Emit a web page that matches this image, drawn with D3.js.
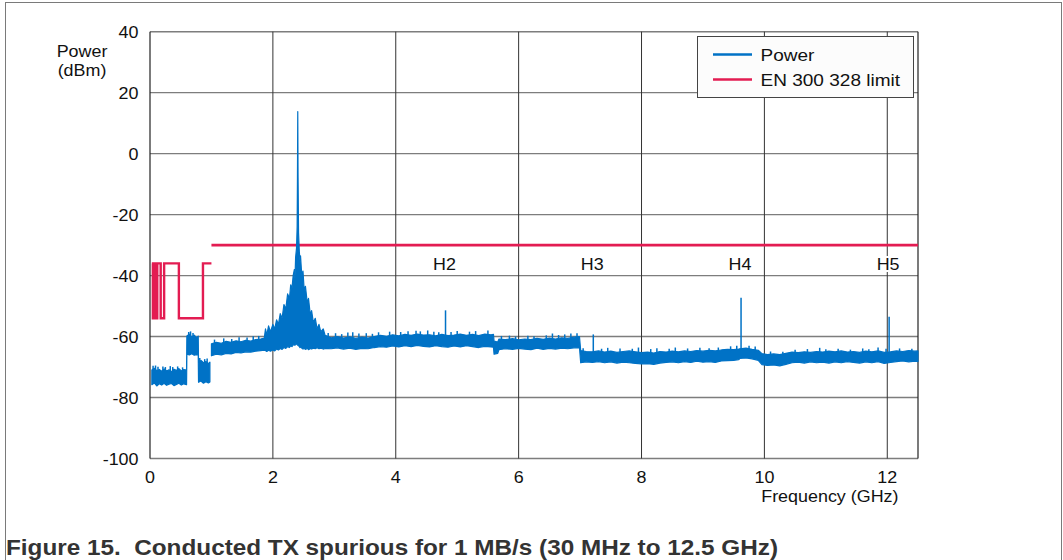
<!DOCTYPE html>
<html>
<head>
<meta charset="utf-8">
<script src="https://cdn.jsdelivr.net/npm/d3@7"></script>
<style>
    body { margin: 0; background: #fff; }
    svg text { font-family: "Liberation Sans", Arial, sans-serif; fill: #111; }
</style>
</head>
<body>
<div id="chart"></div>
<script>
// DATA AREA (frequencies in GHz, power in dBm)
const xTicks = [0, 2, 4, 6, 8, 10, 12];
const yTicks = [40, 20, 0, -20, -40, -60, -80, -100];

// noise band of the measured trace: frequency, upper edge, lower edge (null = gap)
const bandFreq = [
    0.03, 0.07, 0.11, 0.15, 0.19, 0.23, 0.27, 0.31, 0.35, 0.39, 0.43, 0.47, 0.51, 0.55, 0.595,
    0.60, 0.64, 0.68, 0.72, 0.76, 0.785,
    0.79, 0.83, 0.87, 0.91, 0.95, 0.975, 0.99,
    1.00, 1.08, 1.16, 1.24, 1.32, 1.40, 1.48, 1.56, 1.64, 1.72, 1.80, 1.86,
    1.88, 1.90, 1.93, 1.96, 2.00, 2.03, 2.06, 2.09, 2.12, 2.15, 2.18, 2.21, 2.24, 2.27, 2.29,
    2.31, 2.33, 2.35, 2.36, 2.37, 2.385, 2.395, 2.400, 2.405, 2.410, 2.418, 2.43, 2.44, 2.45,
    2.47, 2.49, 2.51, 2.53, 2.56, 2.58, 2.61, 2.63, 2.66, 2.69, 2.72, 2.75, 2.78, 2.82, 2.85,
    2.95, 3.05, 3.15, 3.25, 3.35, 3.45, 3.55, 3.65, 3.75, 3.85, 3.95, 4.05, 4.15, 4.25, 4.35,
    4.45, 4.55, 4.65, 4.75, 4.85, 4.95, 5.05, 5.15, 5.25, 5.35, 5.45, 5.55, 5.59,
    5.60, 5.66, 5.68, 5.78, 5.90, 6.00, 6.10, 6.20, 6.30, 6.40, 6.50, 6.60, 6.70, 6.80, 6.90, 6.99,
    7.01, 7.10, 7.20, 7.30, 7.40, 7.50, 7.60, 7.70, 7.80, 7.90, 8.00, 8.10, 8.20, 8.30, 8.40,
    8.50, 8.60, 8.70, 8.80, 8.90, 9.00, 9.10, 9.20, 9.30, 9.40, 9.50, 9.58,
    9.60, 9.70, 9.80, 9.90, 9.96, 10.05, 10.15, 10.25, 10.35, 10.45, 10.55, 10.65, 10.75, 10.85,
    10.95, 11.05, 11.15, 11.25, 11.35, 11.45, 11.55, 11.65, 11.75, 11.85, 11.95, 12.05, 12.15,
    12.25, 12.35, 12.45, 12.5
];
const bandHi = [
    -71.0, -70.4, -71.2, -70.8, -71.4, -70.6, -71.3, -70.9, -71.5, -70.7, -71.1, -70.5, -71.3, -70.8, -71.0,
    -59.8, -59.2, -60.2, -59.5, -60.4, -59.9,
    -68.5, -67.8, -68.6, -68.2, -68.9, -68.4, null,
    -62.4, -61.9, -62.2, -61.6, -61.9, -61.4, -61.7, -61.2, -61.5, -61.0, -60.8, -60.5,
    -57.5, -59.5, -56.5, -58.5, -56.0, -57.5, -54.5, -56.0, -52.5, -54.0, -49.5, -51.0, -46.0, -47.5, -43.0,
    -44.5, -40.0, -38.0, -41.0, -34.0, -31.0, -24.0, -8.0, 13.8, -8.0, -26.0, -32.0, -35.0, -33.5,
    -40.0, -38.5, -45.0, -43.5, -49.0, -47.5, -53.0, -51.5, -55.5, -54.0, -57.5, -56.0, -58.5, -57.5, -59.6,
    -60.4, -60.0, -60.5, -60.1, -60.6, -60.2, -60.5, -60.0, -59.6, -59.9, -59.4, -59.8, -59.3, -59.6, -59.2,
    -59.5, -59.4, -59.8, -59.3, -59.7, -59.5, -59.2, -59.6, -59.3, -59.7, -59.2, -59.4, -59.3,
    -61.5, -61.8, -60.8, -61.0, -60.7, -61.1, -60.8, -61.0, -60.6, -60.9, -60.5, -60.8, -60.4, -60.6, -60.2, -60.0,
    -64.6, -64.9, -65.0, -64.7, -65.1, -64.8, -65.2, -64.9, -64.7, -65.0, -65.3, -65.1, -65.4, -64.9, -65.1,
    -64.8, -65.0, -64.7, -64.9, -64.6, -64.8, -64.5, -64.7, -64.4, -64.2, -64.3, -64.1,
    -64.0, -63.8, -64.2, -64.5, -65.6, -65.9, -65.7, -65.9, -65.5, -65.1, -65.3, -65.0, -65.2, -64.9,
    -65.1, -64.8, -65.0, -64.7, -65.1, -64.9, -65.2, -64.8, -65.0, -64.7, -65.2, -65.0, -64.7,
    -64.9, -64.6, -64.8, -64.7
];
const bandLo = [
    -75.8, -75.2, -76.2, -75.5, -75.9, -75.3, -76.0, -75.6, -75.4, -76.1, -75.7, -75.3, -75.9, -75.5, -75.8,
    -65.8, -66.0, -65.6, -66.1, -65.9, -66.0,
    -75.0, -74.6, -75.3, -74.8, -75.2, -74.9, null,
    -66.3, -65.8, -66.0, -65.5, -65.7, -65.2, -65.4, -65.0, -65.1, -64.8, -64.6, -64.5,
    -64.6, -64.9, -64.5, -64.8, -64.4, -64.7, -64.1, -64.4, -63.9, -64.2, -63.6, -63.9, -63.3, -63.6, -63.0,
    -63.3, -62.8, -62.5, -62.9, -62.4, -62.5, -62.6, -62.8, -62.8, -62.9, -63.0, -63.3, -63.6, -63.4,
    -63.8, -64.1, -63.9, -64.2, -63.9, -64.3, -63.9, -64.1, -63.8, -64.0, -63.7, -64.0, -63.8, -64.1, -63.9,
    -64.0, -63.7, -64.1, -63.8, -64.2, -63.9, -64.0, -63.6, -63.3, -63.5, -63.1, -63.4, -63.0, -63.3, -62.9,
    -63.2, -63.4, -63.0, -63.3, -63.5, -63.1, -63.4, -63.0, -63.3, -63.6, -63.2, -63.4, -63.5,
    -65.8, -65.5, -64.3, -64.0, -64.2, -63.9, -64.1, -64.3, -63.8, -64.2, -63.9, -64.1, -63.8, -64.0, -63.7, -63.6,
    -68.6, -68.3, -68.5, -68.2, -68.6, -68.3, -68.7, -68.4, -68.6, -68.8, -69.0, -68.9, -69.1, -68.7, -68.5,
    -68.3, -68.6, -68.2, -68.5, -68.1, -68.4, -68.2, -68.5, -68.0, -67.9, -67.8, -67.6,
    -67.2, -67.0, -67.3, -67.8, -69.2, -69.5, -69.3, -69.6, -69.1, -68.6, -68.4, -68.7, -68.3, -68.6,
    -68.4, -68.7, -68.3, -68.6, -68.2, -68.5, -68.7, -68.3, -68.6, -68.2, -68.8, -68.5, -68.2,
    -68.0, -68.3, -68.1, -68.2
];

// narrow spurs above the noise band: frequency, top
const spurFreq = [
    0.05, 0.09, 0.13, 0.21, 0.25, 0.33, 0.37, 0.45, 0.53, 0.63, 0.66, 0.70, 0.81, 0.89, 0.93,
    1.05, 1.20, 1.33, 1.45, 1.58, 1.68, 1.77,
    2.90, 3.02, 3.12, 3.22, 3.30, 3.40, 3.52, 3.62, 3.72, 3.90, 4.08, 4.20, 4.33, 4.40, 4.52, 4.62,
    4.70, 4.81, 4.90, 5.00, 5.20, 5.30, 5.50,
    5.72, 5.85, 5.95, 6.15, 6.25, 6.45, 6.55, 6.65, 6.75, 6.85, 6.95,
    7.05, 7.215, 7.35, 7.45, 7.65, 7.85, 7.95, 8.15, 8.25, 8.45, 8.55, 8.75, 8.95, 9.10, 9.25,
    9.45, 9.55, 9.62, 9.75, 9.85,
    10.10, 10.30, 10.50, 10.70, 10.90, 11.00, 11.20, 11.40, 11.60, 11.70, 11.85, 11.98, 12.03,
    12.20, 12.40
];
const spurTop = [
    -69.6, -69.5, -69.9, -69.8, -70.0, -69.7, -70.0, -69.8, -70.1, -58.5, -58.3, -58.8, -67.0, -67.4, -67.2,
    -61.0, -60.6, -60.8, -60.2, -60.3, -59.9, -59.8,
    -58.8, -58.9, -59.2, -58.7, -58.6, -59.0, -58.9, -59.1, -58.6, -58.4, -58.5, -58.3, -58.1, -58.3, -58.0, -58.4,
    -58.6, -51.4, -58.5, -58.2, -58.4, -58.2, -58.0,
    -59.8, -59.7, -60.0, -59.7, -59.9, -59.6, -59.0, -59.5, -59.3, -59.0, -58.9,
    -63.8, -59.3, -64.0, -63.7, -63.9, -64.0, -63.6, -64.1, -63.8, -64.0, -63.6, -63.9, -63.7, -63.8, -63.6,
    -63.2, -63.0, -47.3, -63.0, -63.3,
    -64.9, -65.0, -64.3, -64.1, -63.7, -64.2, -64.0, -64.3, -63.9, -64.2, -63.6, -64.0, -53.5,
    -63.9, -64.0
];

// EN 300 328 limit (step line)
const limitFreq = [0.03, 0.047, 0.047, 0.074, 0.074, 0.0875, 0.0875, 0.118, 0.118, 0.174, 0.174, 0.230,
    0.230, 0.470, 0.470, 0.862, 0.862, 1.0];
const limitVal = [-36, -36, -54, -54, -36, -36, -54, -54, -36, -36, -54, -54,
    -36, -36, -54, -54, -36, -36];
const limitHighFreq = [1.0, 12.5];
const limitHighVal = [-30, -30];

const harmonicLabels = ["H2", "H3", "H4", "H5"];
const harmonicFreq = [4.81, 7.215, 9.62, 12.03];

// CONFIGURATION AREA
const W = 1063, H = 560;
const plot = {left: 150, right: 918, top: 31.7, bottom: 458.5};
const blue = "#0072c6", red = "#e31c52";
const stretch = 1.12;   // the original text is a bit wide

const svg = d3.select("#chart").append("svg")
    .attr("width", W).attr("height", H);

const x = d3.scaleLinear().domain([0, 12.5]).range([plot.left, plot.right]);
const y = d3.scaleLinear().domain([-100, 40]).range([plot.bottom, plot.top]);

function label(sel, px, py, str, anchor, size) {
    return sel.append("text")
        .attr("transform", `translate(${px},${py}) scale(${stretch},1)`)
        .attr("text-anchor", anchor)
        .style("font-size", size + "px")
        .text(str);
}

// upper edge of the band at a frequency, so a spur starts on the trace
const band = bandFreq.map((f, i) => ({f: f, hi: bandHi[i], lo: bandLo[i]}));
function bandTop(f) {
    let i = d3.bisector(d => d.f).left(band, f);
    let d = band[Math.min(i, band.length - 1)];
    if (d.hi === null) d = band[i - 1];
    return d.hi;
}

// outer figure frame
svg.append("rect")
    .attr("x", 5.5).attr("y", 2.5)
    .attr("width", 1056).attr("height", 600)
    .attr("fill", "none").attr("stroke", "#7a7a7a");

// grid
svg.append("g").selectAll("line")
    .data(yTicks)
    .join("line")
    .attr("x1", plot.left).attr("x2", plot.right)
    .attr("y1", d => y(d)).attr("y2", d => y(d))
    .attr("stroke", "#7d7d7d").attr("stroke-width", 1.4);

svg.append("g").selectAll("line")
    .data(xTicks.filter(d => d > 0))
    .join("line")
    .attr("x1", d => x(d)).attr("x2", d => x(d))
    .attr("y1", plot.top).attr("y2", plot.bottom)
    .attr("stroke", "#333").attr("stroke-width", 1);

[plot.left, plot.right].forEach(px => {
    svg.append("line")
        .attr("x1", px).attr("x2", px)
        .attr("y1", plot.top).attr("y2", plot.bottom)
        .attr("stroke", "#222").attr("stroke-width", 1.2);
});

// axis labels
yTicks.forEach(d => label(svg, 138.5, y(d) + 6, d, "end", 16));
xTicks.forEach(d => label(svg, x(d), 483, d, "middle", 16));
label(svg, 898.5, 502, "Frequency (GHz)", "end", 16);
label(svg, 82, 57, "Power", "middle", 16);
label(svg, 82, 76, "(dBm)", "middle", 16);

// limit line
const limitLine = d3.line().x(d => x(d[0])).y(d => y(d[1]));
svg.append("path")
    .datum(d3.zip(limitFreq, limitVal))
    .attr("d", limitLine)
    .attr("fill", "none").attr("stroke", red).attr("stroke-width", 2.4);
svg.append("path")
    .datum(d3.zip(limitHighFreq, limitHighVal))
    .attr("d", limitLine)
    .attr("fill", "none").attr("stroke", red).attr("stroke-width", 2.6);

// measured trace drawn as a noise band
const area = d3.area()
    .defined(d => d.hi !== null)
    .x(d => x(d.f))
    .y0(d => y(d.lo))
    .y1(d => y(d.hi));
svg.append("path")
    .datum(band)
    .attr("d", area)
    .attr("fill", blue).attr("stroke", blue).attr("stroke-width", 1.2)
    .attr("stroke-linejoin", "round");

svg.append("g").selectAll("line")
    .data(d3.zip(spurFreq, spurTop))
    .join("line")
    .attr("x1", d => x(d[0])).attr("x2", d => x(d[0]))
    .attr("y1", d => y(d[1])).attr("y2", d => y(bandTop(d[0])) + 2)
    .attr("stroke", blue).attr("stroke-width", 1.5);

// harmonic labels sit on a white box that hides the grid
harmonicFreq.forEach((f, i) => {
    const g = svg.append("g");
    g.append("rect")
        .attr("x", x(f) - 11).attr("y", 256)
        .attr("width", 22).attr("height", 16)
        .attr("fill", "#fff");
    label(g, x(f) - 1, 270, harmonicLabels[i], "middle", 16);
});

// legend
const legend = svg.append("g");
legend.append("rect")
    .attr("x", 697.5).attr("y", 36.5)
    .attr("width", 216).attr("height", 61)
    .attr("fill", "#fcfcfc").attr("stroke", "#444");
[["Power", blue, 54.5], ["EN 300 328 limit", red, 79.5]].forEach(e => {
    legend.append("line")
        .attr("x1", 713).attr("x2", 752)
        .attr("y1", e[2]).attr("y2", e[2])
        .attr("stroke", e[1]).attr("stroke-width", 2.6);
    label(legend, 760.5, e[2] + 6.5, e[0], "start", 17);
});

// caption (keeps the double space after the figure number)
svg.append("text")
    .attr("x", 6).attr("y", 555)
    .attr("textLength", 772)
    .attr("lengthAdjust", "spacingAndGlyphs")
    .style("white-space", "pre")
    .style("font-size", "22px").style("font-weight", "bold").style("fill", "#333")
    .text("Figure 15.  Conducted TX spurious for 1 MB/s (30 MHz to 12.5 GHz)");
</script>
</body>
</html>
